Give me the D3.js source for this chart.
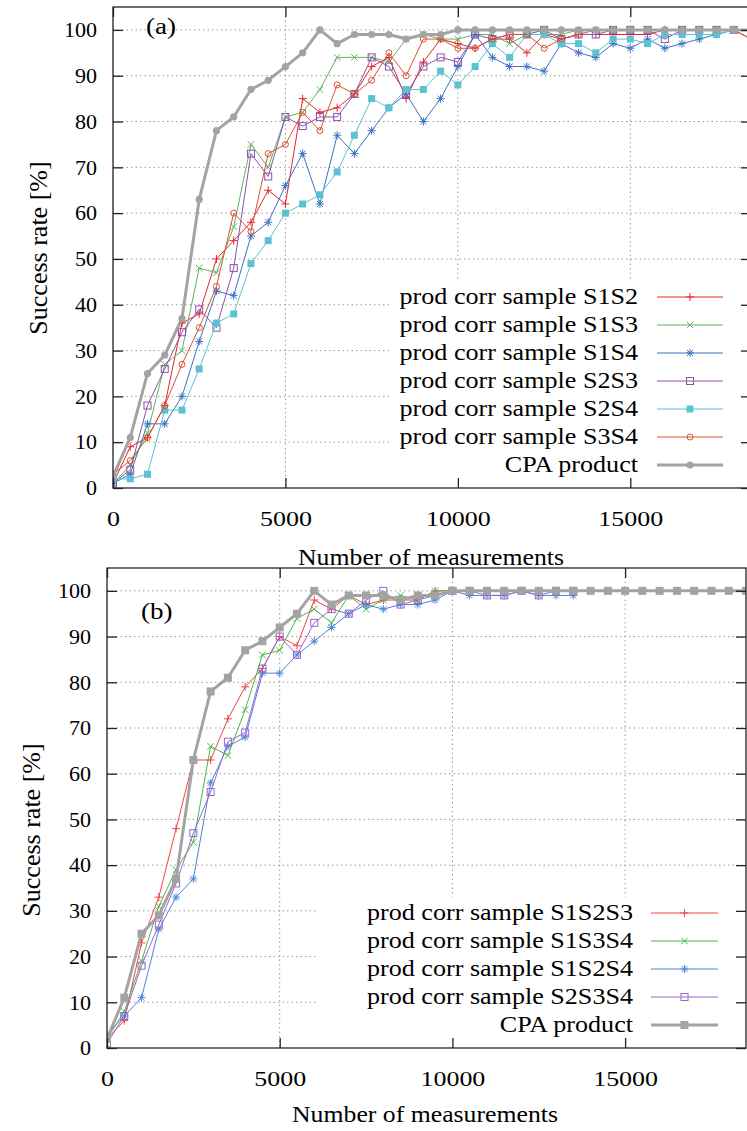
<!DOCTYPE html>
<html><head><meta charset="utf-8">
<script src="https://cdn.jsdelivr.net/npm/d3@7"></script>
<style>
body{margin:0;background:#fff}
svg{display:block}
text{font-family:"Liberation Serif","Times New Roman",serif;fill:#000}
</style>
</head><body>
<svg id="c" width="747" height="1131"></svg>
<script>
// ---------- data ----------
const measurements = [0,500,1000,1500,2000,2500,3000,3500,4000,4500,5000,5500,6000,6500,7000,7500,8000,8500,9000,9500,10000,10500,11000,11500,12000,12500,13000,13500,14000,14500,15000,15500,16000,16500,17000,17500,18000,18500];
const yTicks = [0,10,20,30,40,50,60,70,80,90,100];
const xTicks = [0,5000,10000,15000];

// panel (a)
const cpaA  = [2.5,11,25,29,37,63,78,81,87,89,92,95,100,97,99,99,99,98,99,99,100,100,100,100,100,100,100,100,100,100,100,100,100,100,100,100,100,100];
const s1s2  = [1,9,11,18,36,38,50,54,58,65,62,85,82,83,86,92,94,85,93,98,97,96,98,98,95,99,98,99,99,99,99,99,100,100,100,100,100,98];
const s1s3  = [1,5,12,27,30,48,47,57,75,70,81,82,87,94,94,94,93,98,99,98,98,99,99,97,99,99,99,100,100,100,100,100,100,100,100,100,100];
const s1s4  = [1,3,14,14,20,32,43,42,55,58,66,73,62,77,73,78,83,86,80,85,92,99,94,92,92,91,97,95,94,97,96,98,96,97,98,99,100];
const s2s3  = [1,4,18,26,34,39,35,48,73,68,81,79,81,81,86,94,92,86,92,94,93,99,98,99,99,100,98,99,99,100,100,100,98,100,100,100,100];
const s2s4  = [2,2,3,17,17,26,36,38,49,54,60,62,64,69,77,85,83,87,87,91,88,92,97,94,99,99,97,97,95,98,98,97,99,99,99,99,100];
const s3s4  = [3,6,11,18,27,35,44,60,56,73,75,82,78,88,86,89,95,90,98,98,96,96,98,99,99,96,98,99,100,100,100,100,100,100,100,100,100,98];

// panel (b)
const cpaB    = [2,11,25,29,37,63,78,81,87,89,92,95,100,97,99,99,99,98,99,99,100,100,100,100,100,100,100,100,100,100,100,100,100,100,100,100,100,100];
const s1s2s3  = [2,6,23,33,48,63,63,72,79,83,90,88,98,96,99,97,98,98,98,100,100,100,100,100,100,100,100,100];
const s1s3s4  = [2,8,19,31,39,45,66,64,74,86,87,94,96,93,99,96,98,99,98,100,100,100,100,100,100,100,100,100];
const s1s2s4  = [3,7,11,26,33,37,58,66,68,82,82,86,89,92,95,97,96,97,97,98,100,99,99,99,100,99,99,99];
const s2s3s4  = [1,7,18,27,36,47,56,67,69,83,90,86,93,96,95,98,100,97,98,99,100,100,99,99,100,99,100,100];

const labelsA = ["prod corr sample S1S2","prod corr sample S1S3","prod corr sample S1S4","prod corr sample S2S3","prod corr sample S2S4","prod corr sample S3S4","CPA product"];
const labelsB = ["prod corr sample S1S2S3","prod corr sample S1S3S4","prod corr sample S1S2S4","prod corr sample S2S3S4","CPA product"];

// ---------- drawing ----------
const svg = d3.select("#c");
const SX = 1.18; // horizontal stretch of glyphs in the reference

function stretchedText(g, x, y, str, size, anchor, sx){
  return g.append("text")
    .attr("transform", `translate(${x},${y}) scale(${sx||SX},1)`)
    .attr("font-size", size)
    .attr("text-anchor", anchor)
    .text(str);
}

function marker(g, type, x, y, color, sw){
  sw = sw || 1;
  const s = 4;
  if(type==="plus"){
    g.append("path").attr("d",`M${x-s},${y}H${x+s}M${x},${y-s}V${y+s}`).attr("stroke",color).attr("stroke-width",sw).attr("fill","none");
  } else if(type==="cross"){
    const c=3.3;
    g.append("path").attr("d",`M${x-c},${y-c}L${x+c},${y+c}M${x-c},${y+c}L${x+c},${y-c}`).attr("stroke",color).attr("stroke-width",sw).attr("fill","none");
  } else if(type==="star"){
    const c=3;
    g.append("path").attr("d",`M${x-s},${y}H${x+s}M${x},${y-s}V${y+s}M${x-c},${y-c}L${x+c},${y+c}M${x-c},${y+c}L${x+c},${y-c}`).attr("stroke",color).attr("stroke-width",sw).attr("fill","none");
  } else if(type==="osquare"){
    g.append("rect").attr("x",x-3.5).attr("y",y-3.5).attr("width",7).attr("height",7).attr("fill","none").attr("stroke",color).attr("stroke-width",sw);
  } else if(type==="fsquare"){
    g.append("rect").attr("x",x-3.5).attr("y",y-3.5).attr("width",7).attr("height",7).attr("fill",color);
  } else if(type==="bigsquare"){
    g.append("rect").attr("x",x-4).attr("y",y-4).attr("width",8).attr("height",8).attr("fill",color);
  } else if(type==="ocircle"){
    g.append("circle").attr("cx",x).attr("cy",y).attr("r",3).attr("fill","none").attr("stroke",color).attr("stroke-width",sw);
  } else if(type==="fcircle"){
    g.append("circle").attr("cx",x).attr("cy",y).attr("r",3.6).attr("fill",color);
  }
}

function drawPanel(cfg){
  const {left,right,top,bottom,id} = cfg;
  const x = d3.scaleLinear().domain([0,18500]).range([left,right]);
  const y = d3.scaleLinear().domain([0,105]).range([bottom,top]);
  const g = svg.append("g");

  svg.append("clipPath").attr("id","clip"+id).append("rect")
    .attr("x",left).attr("y",top).attr("width",right-left).attr("height",bottom-top);

  // grid
  const grid = g.append("g").attr("stroke","#9a9a9a").attr("stroke-width",1).attr("stroke-dasharray","1.5,3");
  yTicks.filter(v=>v>0).forEach(v=>{
    grid.append("line").attr("x1",left).attr("x2",right).attr("y1",y(v)).attr("y2",y(v));
  });
  xTicks.filter(v=>v>0).forEach(v=>{
    grid.append("line").attr("x1",x(v)).attr("x2",x(v)).attr("y1",top).attr("y2",bottom);
  });

  // legend opaque box
  g.append("rect").attr("x",cfg.legBox[0]).attr("y",cfg.legBox[1]).attr("width",cfg.legBox[2]).attr("height",cfg.legBox[3]).attr("fill","#fff");

  // series
  const sg = g.append("g").attr("clip-path",`url(#clip${id})`);
  const line = d3.line().x(d=>x(d[0])).y(d=>y(d[1]));
  cfg.series.forEach(s=>{
    const pts = s.values.map((v,i)=>[measurements[i],v]);
    sg.append("path").datum(pts).attr("d",line).attr("fill","none").attr("stroke",s.color).attr("stroke-width",s.width||1).attr("stroke-linejoin","round");
    pts.forEach(p=>marker(sg,s.marker,x(p[0]),y(p[1]),s.color,s.msw));
  });

  // axes with inward ticks (mirrored on all sides)
  const axL = d3.axisLeft(y).tickValues(yTicks).tickSize(-10).tickPadding(16).tickFormat(d3.format("d"));
  const axB = d3.axisBottom(x).tickValues(xTicks).tickSize(-10).tickPadding(22).tickFormat(d3.format("d"));
  const axR = d3.axisRight(y).tickValues(yTicks).tickSize(-10).tickFormat("");
  const axT = d3.axisTop(x).tickValues(xTicks).tickSize(-10).tickFormat("");
  const specs = [["l",axL,`translate(${left},0)`,cfg.yTickSize,cfg.yTickSX],["b",axB,`translate(0,${bottom})`,cfg.xTickSize,cfg.xTickSX],["r",axR,`translate(${right},0)`],["t",axT,`translate(0,${top})`]];
  specs.forEach(([k,ax,tr,fs,sx])=>{
    const a = g.append("g").attr("transform",tr).call(ax);
    a.select(".domain").remove();
    a.selectAll(".tick line").attr("stroke","#222").attr("stroke-width",1.3);
    a.selectAll(".tick text").attr("font-size",fs).attr("fill","#000")
      .attr("font-family",'"Liberation Serif",serif')
      .each(function(){
        const t = d3.select(this);
        const ax0 = +t.attr("x")||0, ay0 = +t.attr("y")||0;
        t.attr("transform",`translate(${ax0},${ay0}) scale(${sx},1)`).attr("x",0).attr("y",0);
      });
  });
  // border
  g.append("rect").attr("x",left).attr("y",top).attr("width",right-left).attr("height",bottom-top)
    .attr("fill","none").attr("stroke","#222").attr("stroke-width",1.3);

  // panel tag
  stretchedText(g, cfg.tag[1], cfg.tag[2], cfg.tag[0], 23, "start");
  // axis titles
  stretchedText(g, cfg.xTitleCX, cfg.xTitleY, "Number of measurements", 23, "middle", 1.12);
  g.append("text").attr("transform",`translate(${cfg.yTitleX},${cfg.yTitleCY}) rotate(-90)`)
    .attr("font-size",26).attr("text-anchor","middle").text("Success rate [%]");

  // legend
  const lg = g.append("g");
  cfg.series.forEach((s,i)=>{
    const ly = cfg.legY0 + i*cfg.legDY;
    stretchedText(lg, cfg.legTextX, ly+7, cfg.labels[i], 22.5, "end", 1.16);
    lg.append("line").attr("x1",cfg.legLine[0]).attr("x2",cfg.legLine[1]).attr("y1",ly).attr("y2",ly)
      .attr("stroke",s.color).attr("stroke-width",s.width||1);
    marker(lg,s.marker,(cfg.legLine[0]+cfg.legLine[1])/2,ly,s.color,s.msw);
  });
}

const grey = "#a3a3a3";
drawPanel({
  id:"a", left:113, right:751, top:7, bottom:488,
  yTickSize:21, yTickSX:1.05, xTickSize:22, xTickSX:1.18,
  tag:["(a)",146,34], xTitleCX:431, xTitleY:565, yTitleX:47, yTitleCY:248,
  legBox:[390,280,361,207], legTextX:638, legLine:[657,723], legY0:297, legDY:28,
  labels:labelsA,
  series:[
    {values:s1s2, color:"#e8232b", marker:"plus"},
    {values:s1s3, color:"#5db65d", marker:"cross"},
    {values:s1s4, color:"#3b72c2", marker:"star"},
    {values:s2s3, color:"#8b52ad", marker:"osquare"},
    {values:s2s4, color:"#5cc1d3", marker:"fsquare"},
    {values:s3s4, color:"#d65330", marker:"ocircle"},
    {values:cpaA, color:grey, marker:"fcircle", width:3}
  ]
});
drawPanel({
  id:"b", left:107, right:746, top:568, bottom:1048,
  yTickSize:21, yTickSX:1.05, xTickSize:22, xTickSX:1.18,
  tag:["(b)",141,619], xTitleCX:425, xTitleY:1122, yTitleX:40, yTitleCY:830,
  legBox:[317,897,429,150], legTextX:633, legLine:[651,718], legY0:913, legDY:28,
  labels:labelsB,
  series:[
    {values:s1s2s3, color:"#f04444", marker:"plus"},
    {values:s1s3s4, color:"#48b848", marker:"cross"},
    {values:s1s2s4, color:"#4a86d4", marker:"star"},
    {values:s2s3s4, color:"#9a66cc", marker:"osquare"},
    {values:cpaB, color:grey, marker:"bigsquare", width:3}
  ]
});
</script>
</body></html>
